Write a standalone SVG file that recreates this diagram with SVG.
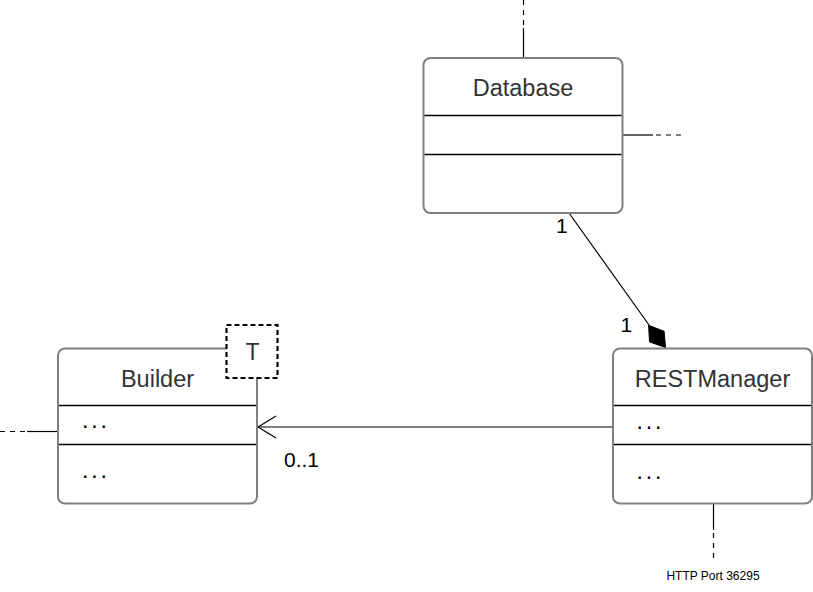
<svg xmlns="http://www.w3.org/2000/svg" width="813" height="592" viewBox="0 0 813 592">
<style>
.box{fill:#fff;stroke:#808080;stroke-width:2}
.div{stroke:#000;stroke-width:1.3}
.title{font-family:"Liberation Sans",Arial,sans-serif;font-size:23.5px;fill:#333;text-anchor:middle}
.dots{font-family:"Liberation Sans",Arial,sans-serif;font-size:23px;fill:#000;letter-spacing:2.9px}
.lbl{font-family:"Liberation Sans",Arial,sans-serif;font-size:21px;fill:#000}
.ln{stroke:#000;stroke-width:1.2;fill:none}
.dash{stroke:#000;stroke-width:1.2;fill:none;stroke-dasharray:5 5}
</style>
<rect width="813" height="592" fill="#fff"/>
<g id="connectors">
<line class="dash" x1="523.5" y1="0" x2="523.5" y2="28"/>
<line class="ln" x1="523.5" y1="28" x2="523.5" y2="58"/>
<line class="ln" x1="623" y1="135" x2="653" y2="135"/>
<line class="dash" x1="656" y1="135" x2="681" y2="135"/>
<line class="dash" x1="0" y1="431.5" x2="27" y2="431.5"/>
<line class="ln" x1="27" y1="431.5" x2="58" y2="431.5"/>
<line class="ln" x1="713.5" y1="503" x2="713.5" y2="530"/>
<line class="dash" x1="713.5" y1="533" x2="713.5" y2="562"/>
<line class="ln" x1="613" y1="427" x2="258" y2="427"/>
<polyline class="ln" points="276,416 258,427 276,438"/>
<line class="ln" x1="569" y1="213" x2="649" y2="325"/>
<polygon points="648.6,325.3 664.1,331.3 665.5,347.5 649.5,341.9" fill="#000" stroke="#000" stroke-width="1"/>
<text class="lbl" x="556" y="233">1</text>
<text class="lbl" x="620.5" y="331.5">1</text>
<text class="lbl" x="284" y="466.5">0..1</text>
<text x="713" y="579.5" font-family="Liberation Sans, Arial, sans-serif" font-size="12" fill="#000" text-anchor="middle">HTTP Port 36295</text>
</g>
<g id="database">
<rect class="box" x="423.5" y="58" width="199" height="155" rx="7"/>
<line class="div" x1="424.5" y1="115.5" x2="621.5" y2="115.5"/>
<line class="div" x1="424.5" y1="154.5" x2="621.5" y2="154.5"/>
<text class="title" x="523" y="96">Database</text>
</g>
<g id="builder">
<rect class="box" x="58" y="348.5" width="199" height="155" rx="7"/>
<line class="div" x1="59" y1="405.5" x2="256" y2="405.5"/>
<line class="div" x1="59" y1="444.5" x2="256" y2="444.5"/>
<text class="title" x="157.5" y="386.5">Builder</text>
<text class="dots" x="82" y="427.5">...</text>
<text class="dots" x="82" y="477.5">...</text>
<rect x="226.5" y="325" width="51" height="53" fill="#fff" stroke="#000" stroke-width="2.2" stroke-dasharray="5 3"/>
<text x="252.5" y="359.5" font-family="Liberation Sans, Arial, sans-serif" font-size="23" fill="#333" text-anchor="middle">T</text>
</g>
<g id="restmanager">
<rect class="box" x="613" y="348.5" width="199" height="155" rx="7"/>
<line class="div" x1="614" y1="405.5" x2="811" y2="405.5"/>
<line class="div" x1="614" y1="444.5" x2="811" y2="444.5"/>
<text class="title" x="712.5" y="387">RESTManager</text>
<text class="dots" x="636.5" y="428.5">...</text>
<text class="dots" x="636.5" y="478.5">...</text>
</g>
</svg>
